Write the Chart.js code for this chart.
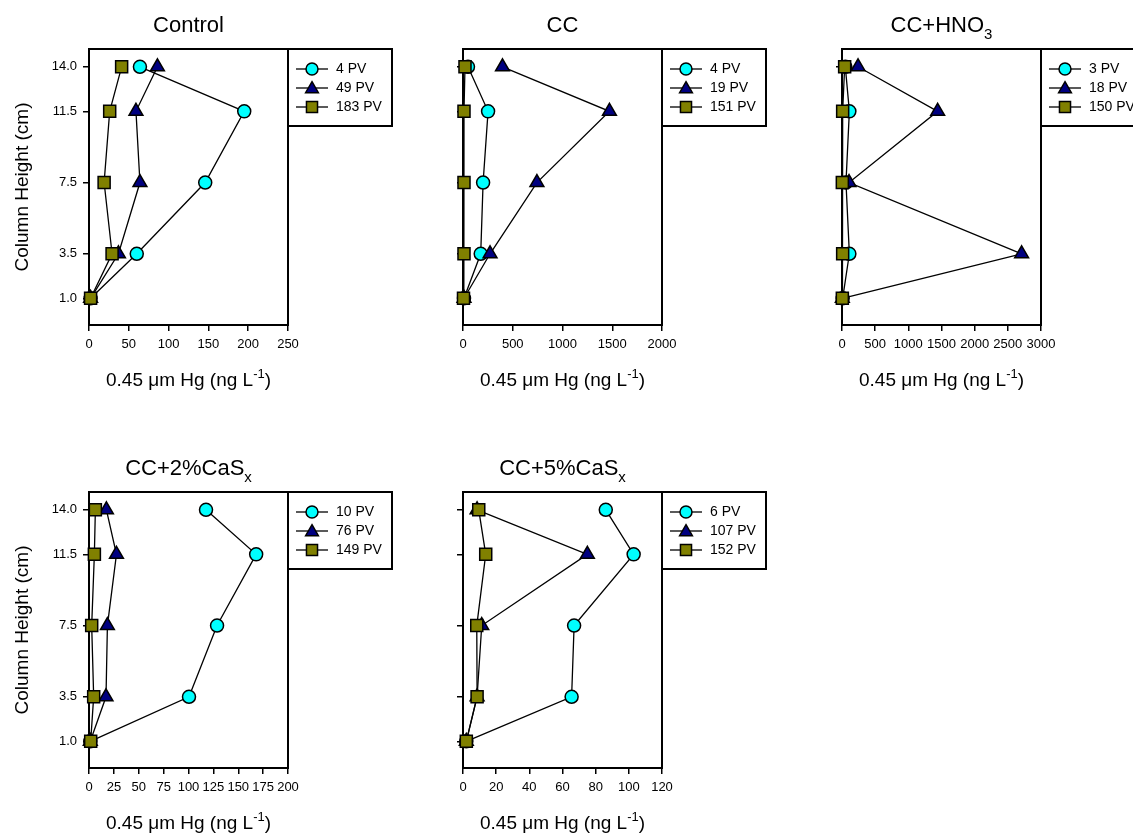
<!DOCTYPE html>
<html lang="en">
<head>
  <meta charset="UTF-8">
  <title>0.45 um Hg column profiles</title>
  <script src="https://cdn.jsdelivr.net/npm/chart.js"></script>
  <style>
    body { margin: 0; background: #fff; }
    #wrap { position: relative; width: 1133px; height: 833px; overflow: hidden; }
    canvas { position: absolute; }
  </style>
</head>
<body>
<div id="wrap">
  <canvas id="c1" width="400" height="400" style="left:0;top:0"></canvas>
  <canvas id="c2" width="380" height="400" style="left:400px;top:0"></canvas>
  <canvas id="c3" width="353" height="400" style="left:780px;top:0"></canvas>
  <canvas id="c4" width="400" height="393" style="left:0;top:440px"></canvas>
  <canvas id="c5" width="380" height="393" style="left:400px;top:440px"></canvas>
</div>

<script>
  // sampling heights in the column (cm), top to bottom
  const heights = [14.0, 11.5, 7.5, 3.5, 1.0];
  const heightTicks = [1.0, 3.5, 7.5, 11.5, 14.0];

  // Hg (ng/L) at each height, one array per pore volume
  const controlLabels = ['4 PV', '49 PV', '183 PV'];
  const control4 = [64, 195, 146, 60, 2];
  const control49 = [86, 59, 64, 37, 2];
  const control183 = [41, 26, 19, 29, 2];

  const ccLabels = ['4 PV', '19 PV', '151 PV'];
  const cc4 = [50, 252, 202, 178, 10];
  const cc19 = [397, 1472, 743, 272, 10];
  const cc151 = [20, 10, 10, 10, 5];

  const hno3Labels = ['3 PV', '18 PV', '150 PV'];
  const hno3_3 = [50, 111, 60, 111, 10];
  const hno3_18 = [242, 1442, 106, 2708, 5];
  const hno3_150 = [40, 10, 5, 10, 5];

  const cas2Labels = ['10 PV', '76 PV', '149 PV'];
  const cas2_10 = [117.6, 168, 128.7, 100.5, 1.3];
  const cas2_76 = [17.5, 27.6, 18.5, 17.1, 1.3];
  const cas2_149 = [6.4, 5.4, 2.7, 4.7, 1.7];

  const cas5Labels = ['6 PV', '107 PV', '152 PV'];
  const cas5_6 = [86.1, 102.9, 67, 65.5, 2];
  const cas5_107 = [8.5, 75, 11.3, 8.5, 2];
  const cas5_152 = [9.5, 13.7, 8.3, 8.5, 2];

  const FONT = '"Liberation Sans", Arial, sans-serif';
  Chart.defaults.font.family = FONT;
  Chart.defaults.color = '#000';

  const styles = [
    { shape: 'circle', fill: '#00ffff', r: 6.5, order: 2 },
    { shape: 'triangle', fill: '#000080', r: 8, order: 1 },
    { shape: 'rect', fill: '#808000', r: 8.5, order: 0 }
  ];

  const panels = [
    { id: 'c1', h: 400, area: [89, 49, 288, 325], xMax: 250, xStep: 50, yLabels: true,
      title: [{ t: 'Control' }], labels: controlLabels, series: [control4, control49, control183] },
    { id: 'c2', h: 400, area: [63, 49, 262, 325], xMax: 2000, xStep: 500, yLabels: false,
      title: [{ t: 'CC' }], labels: ccLabels, series: [cc4, cc19, cc151] },
    { id: 'c3', h: 400, area: [62, 49, 261, 325], xMax: 3000, xStep: 500, yLabels: false,
      title: [{ t: 'CC+HNO' }, { t: '3', s: 'sub' }], labels: hno3Labels, series: [hno3_3, hno3_18, hno3_150] },
    { id: 'c4', h: 393, area: [89, 52, 288, 328], xMax: 200, xStep: 25, yLabels: true,
      title: [{ t: 'CC+2%CaS' }, { t: 'x', s: 'sub' }], labels: cas2Labels, series: [cas2_10, cas2_76, cas2_149] },
    { id: 'c5', h: 393, area: [63, 52, 262, 328], xMax: 120, xStep: 20, yLabels: false,
      title: [{ t: 'CC+5%CaS' }, { t: 'x', s: 'sub' }], labels: cas5Labels, series: [cas5_6, cas5_107, cas5_152] }
  ];

  const xTitle = [{ t: '0.45 \u03bcm Hg (ng L' }, { t: '-1', s: 'sup' }, { t: ')' }];

  // text with sub/superscript pieces, centred on cx
  function drawParts(ctx, parts, cx, y, size) {
    const big = size + 'px ' + FONT;
    const small = Math.round(size * 0.68) + 'px ' + FONT;
    let total = 0;
    parts.forEach(p => { ctx.font = p.s ? small : big; total += ctx.measureText(p.t).width; });
    let x = cx - total / 2;
    ctx.textAlign = 'left';
    ctx.textBaseline = 'alphabetic';
    parts.forEach(p => {
      ctx.font = p.s ? small : big;
      const dy = p.s === 'sub' ? size * 0.3 : p.s === 'sup' ? -size * 0.42 : 0;
      ctx.fillText(p.t, x, y + dy);
      x += ctx.measureText(p.t).width;
    });
  }

  function drawMarker(ctx, shape, x, y, r) {
    ctx.beginPath();
    if (shape === 'circle') {
      ctx.arc(x, y, r, 0, Math.PI * 2);
    } else if (shape === 'triangle') {
      ctx.moveTo(x, y - r);
      ctx.lineTo(x + r * 0.866, y + r * 0.5);
      ctx.lineTo(x - r * 0.866, y + r * 0.5);
      ctx.closePath();
    } else {
      const s = r * Math.SQRT1_2;
      ctx.rect(x - s, y - s, 2 * s, 2 * s);
    }
    ctx.fill();
    ctx.stroke();
  }

  const framePlugin = {
    id: 'frame',
    beforeDatasetsDraw(chart) {
      const a = chart.chartArea, ctx = chart.ctx;
      ctx.save();
      ctx.strokeStyle = '#000';
      ctx.lineWidth = 2;
      ctx.strokeRect(a.left, a.top, a.right - a.left, a.bottom - a.top);
      ctx.restore();
    },
    afterDraw(chart, args, opts) {
      const a = chart.chartArea, ctx = chart.ctx;
      const cx = (a.left + a.right) / 2;
      ctx.save();
      ctx.fillStyle = '#000';
      drawParts(ctx, opts.title, cx, a.top - 17, 22);
      drawParts(ctx, xTitle, cx, a.bottom + 61, 19);

      // legend box hanging off the right edge of the plot
      const lx = a.right, ly = a.top;
      ctx.strokeStyle = '#000';
      ctx.lineWidth = 2;
      ctx.strokeRect(lx, ly, 104, 77);
      opts.labels.forEach((lab, i) => {
        const y = ly + 20 + 19 * i;
        ctx.lineWidth = 1.3;
        ctx.beginPath();
        ctx.moveTo(lx + 8, y);
        ctx.lineTo(lx + 40, y);
        ctx.stroke();
        ctx.fillStyle = styles[i].fill;
        ctx.lineWidth = 1.5;
        drawMarker(ctx, styles[i].shape, lx + 24, y + (styles[i].shape === 'triangle' ? 1 : 0), styles[i].r * 0.92);
        ctx.fillStyle = '#000';
        ctx.font = '14px ' + FONT;
        ctx.textAlign = 'left';
        ctx.textBaseline = 'middle';
        ctx.fillText(lab, lx + 48, y);
      });
      ctx.restore();
    }
  };

  const tickGrid = { drawOnChartArea: false, drawTicks: true, tickLength: 6, color: '#000', lineWidth: 1.5 };

  panels.forEach(p => {
    const canvas = document.getElementById(p.id);
    const datasets = p.series.map((vals, i) => ({
      label: p.labels[i],
      data: heights.map((h, k) => ({ x: vals[k], y: h })),
      borderColor: '#000',
      borderWidth: 1.3,
      pointStyle: styles[i].shape,
      pointRadius: styles[i].r,
      pointBackgroundColor: styles[i].fill,
      pointBorderColor: '#000',
      pointBorderWidth: 1.5,
      tension: 0,
      clip: false,
      order: styles[i].order
    }));

    new Chart(canvas.getContext('2d'), {
      type: 'line',
      data: { datasets: datasets },
      plugins: [framePlugin],
      options: {
        responsive: false,
        animation: false,
        events: [],
        layout: { padding: { left: 0, top: p.area[1], right: canvas.width - p.area[2], bottom: 0 } },
        scales: {
          x: {
            type: 'linear',
            min: 0,
            max: p.xMax,
            border: { display: false },
            grid: tickGrid,
            ticks: {
              stepSize: p.xStep, autoSkip: false, maxRotation: 0, minRotation: 0,
              padding: 6, font: { size: 13 }, callback: v => String(v)
            },
            afterFit: s => { s.height = p.h - p.area[3]; }
          },
          y: {
            type: 'linear',
            min: -0.5,
            max: 15,
            border: { display: false },
            grid: tickGrid,
            afterBuildTicks: s => { s.ticks = heightTicks.map(v => ({ value: v })); },
            ticks: { display: p.yLabels, padding: 6, font: { size: 13 }, callback: v => Number(v).toFixed(1) },
            title: { display: p.yLabels, text: 'Column Height (cm)', font: { size: 19 }, padding: { top: 11, bottom: 0 } },
            afterFit: s => { s.width = p.area[0]; }
          }
        },
        plugins: {
          legend: { display: false },
          tooltip: { enabled: false },
          frame: { title: p.title, labels: p.labels }
        }
      }
    });
  });
</script>
</body>
</html>
